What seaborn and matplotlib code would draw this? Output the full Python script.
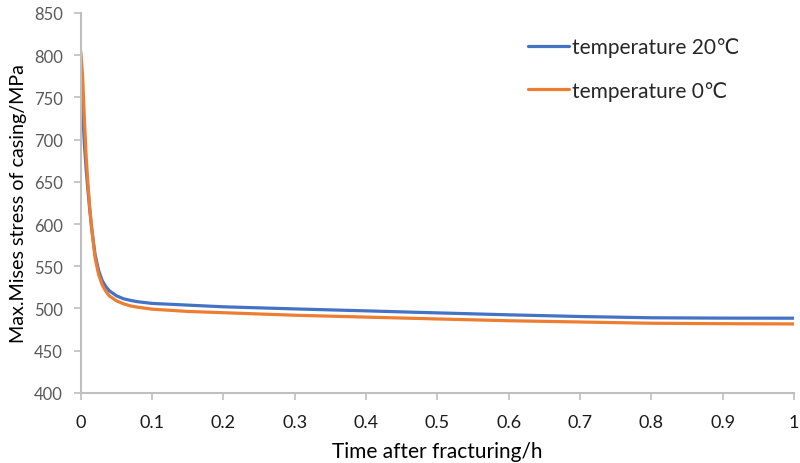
import matplotlib
matplotlib.use("Agg")
import matplotlib.pyplot as plt
import seaborn as sns
import pandas as pd

# Casing stress decay after fracturing, two fluid temperatures
time_h = [0, 0.0025, 0.005, 0.0075, 0.01, 0.0125, 0.015, 0.0175, 0.02, 0.025,
          0.03, 0.035, 0.04, 0.05, 0.06, 0.07, 0.08, 0.1, 0.15, 0.2,
          0.3, 0.4, 0.5, 0.6, 0.7, 0.8, 0.9, 1.0]
stress_20c = [771, 735, 695, 665, 640, 617, 597, 580, 564, 545,
              533, 526, 521, 515, 511.5, 509.5, 508, 506, 504, 502,
              499.5, 497.2, 494.8, 492.5, 490.5, 489, 488.6, 488.5]
stress_0c = [804, 775, 725, 680, 648, 620, 597, 578, 560, 540,
             528, 520.5, 515, 509, 505.5, 503, 501.5, 499.2, 496.5, 495,
             492, 489.8, 487.6, 485.5, 484, 482.5, 482, 481.7]
series_names = ["temperature 20\u2103", "temperature 0\u2103"]
x_ticks = [0, 0.1, 0.2, 0.3, 0.4, 0.5, 0.6, 0.7, 0.8, 0.9, 1]
x_tick_labels = ["0", "0.1", "0.2", "0.3", "0.4", "0.5", "0.6", "0.7", "0.8", "0.9", "1"]
y_ticks = [400, 450, 500, 550, 600, 650, 700, 750, 800, 850]

df = pd.concat([
    pd.DataFrame({"t": time_h, "s": stress_20c, "series": series_names[0]}),
    pd.DataFrame({"t": time_h, "s": stress_0c, "series": series_names[1]}),
])

sns.set_theme(style="white")
plt.rcParams["font.family"] = ["Lato", "DejaVu Sans"]

fig = plt.figure(figsize=(8, 4.64), dpi=100)
ax = fig.add_axes([0.101, 0.151, 0.8915, 0.819])

palette = {series_names[0]: "#4472C4", series_names[1]: "#ED7D31"}
sns.lineplot(data=df, x="t", y="s", hue="series", palette=palette,
             linewidth=2.3, ax=ax, legend=True)

ax.set_xlim(0, 1)
ax.set_ylim(400, 850)
ax.set_xticks(x_ticks)
ax.set_xticklabels(x_tick_labels, fontsize=13, color="#1a1a1a")
ax.set_yticks(y_ticks)
ax.set_yticklabels([str(v) for v in y_ticks], fontsize=12, color="#595959")
ax.tick_params(axis="x", direction="out", length=5, width=1.2,
               color="#BFBFBF", bottom=True, pad=10)
ax.tick_params(axis="y", direction="out", length=5, width=1.2,
               color="#BFBFBF", left=True, pad=8)

for side in ("top", "right"):
    ax.spines[side].set_visible(False)
for side in ("left", "bottom"):
    ax.spines[side].set_color("#BFBFBF")
    ax.spines[side].set_linewidth(1.5)

ax.set_xlabel("Time after fracturing/h", fontsize=15, color="#000000", labelpad=8)
ax.set_ylabel("Max.Mises stress of casing/MPa", fontsize=14.2, color="#000000", labelpad=5)

handles, labels = ax.get_legend_handles_labels()
ax.legend(handles, labels, loc="upper left", bbox_to_anchor=(0.647, 0.941),
          bbox_transform=fig.transFigure, frameon=False, fontsize=15,
          handlelength=1.95, handletextpad=0.15, labelspacing=1.15, borderpad=0)

fig.savefig("out.png", dpi=100)
